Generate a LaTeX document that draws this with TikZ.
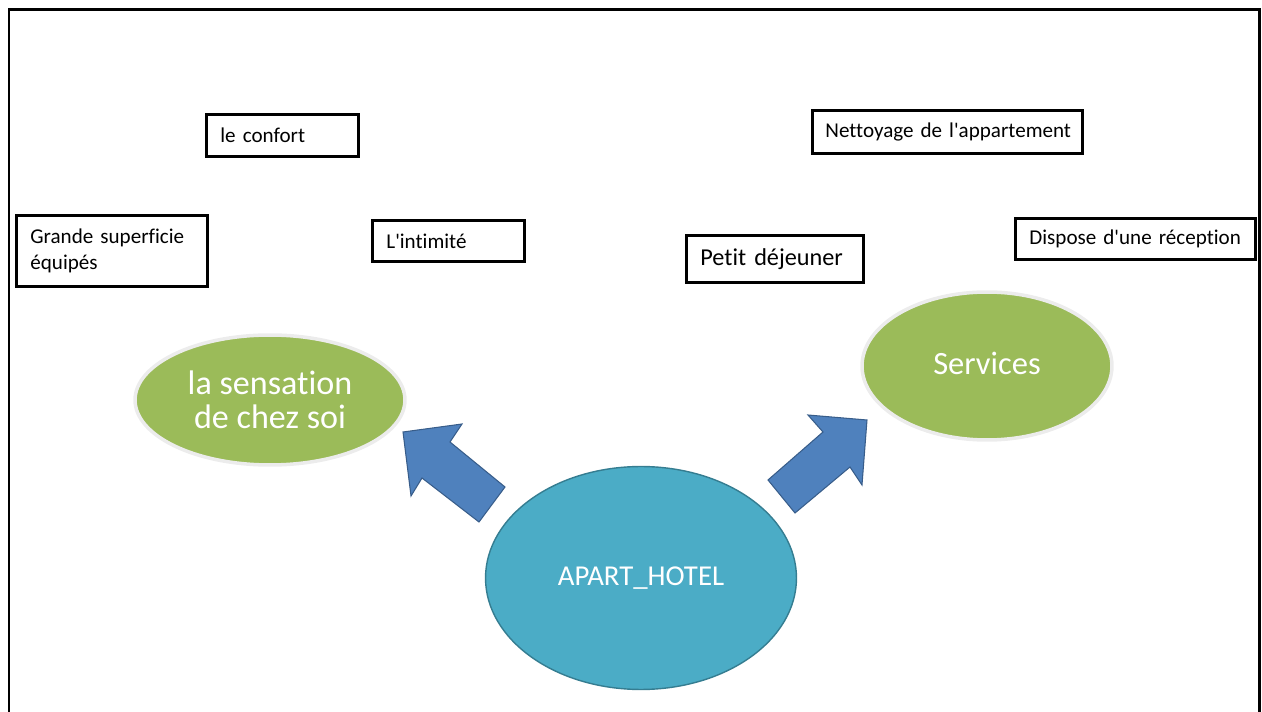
\documentclass[tikz,border=0pt]{standalone}
\usepackage{fontspec}
\setmainfont{Carlito}[Ligatures={CommonOff,TeXOff}]
\usetikzlibrary{shapes.geometric}
\definecolor{vert}{HTML}{9BBB59}
\definecolor{turquoise}{HTML}{4BACC6}
\definecolor{turquoisebord}{HTML}{357D91}
\definecolor{bleu}{HTML}{4F81BD}
\definecolor{bleubord}{HTML}{385D8A}
\begin{document}
\begin{tikzpicture}[x=0.02cm, y=-0.02cm,
	idee/.style={draw, line width=1.6pt, anchor=north west, align=left, inner xsep=0.28cm, font=\fontsize{12}{14.5}\selectfont},
	bulle/.style={ellipse, fill=vert, draw=gray!15, line width=2pt, text=white, inner sep=0pt, align=center, font=\fontsize{18.5}{19}\selectfont},
	bloc/.style={fill=bleu, draw=bleubord, line width=0.6pt, line join=miter}]
	\useasboundingbox (0,0) rectangle (1262,712);
	\draw[line width=1.7pt] (9,712) -- (9,10) -- (1259,10) -- (1259,712);

	\node[idee, text width=2.48cm, minimum height=0.84cm] (confort) at (205,113) {le confort};
	\node[idee, text width=3.26cm, minimum height=1.42cm] (superficie) at (15,214) {Grande superficie\\équipés};
	\node[idee, text width=2.48cm, minimum height=0.82cm] (intimite) at (371,219) {L'intimité};
	\node[idee, text width=5.04cm, inner xsep=0.18cm, minimum height=0.86cm] (nettoyage) at (811,109) {\hspace*{0.08cm}Nettoyage de l'appartement};
	\node[idee, text width=2.98cm, minimum height=0.94cm, font=\fontsize{13.8}{16}\selectfont] (dejeuner) at (685,234) {Petit déjeuner};
	\node[idee, text width=4.44cm, inner xsep=0.18cm, minimum height=0.82cm] (reception) at (1014,217) {\hspace*{0.1cm}Dispose d'une réception};

	\node[bulle, minimum width=5.4cm, minimum height=2.6cm, font=\fontsize{19.4}{19.5}\selectfont] (sensation) at (270,400) {la sensation\\de chez soi};
	\node[bulle, minimum width=5cm, minimum height=2.96cm] (services) at (987,366) {\raisebox{0.1cm}{Services}};
	\node[bulle, fill=turquoise, draw=turquoisebord, line width=0.8pt, minimum width=6.22cm, minimum height=4.46cm, font=\fontsize{16.4}{19}\selectfont] (hotel) at (641,578) {APART\_HOTEL};

	\draw[bloc] 
		(403,432) -- (462,424) -- (450,442) -- (505,487) -- (479,522) -- (422,478) -- (411,496) -- cycle
		(867,420) -- (862,485) -- (850,467) -- (795,513) -- (768,480) -- (823,432) -- (808,415) -- cycle
	;
\end{tikzpicture}
\end{document}
